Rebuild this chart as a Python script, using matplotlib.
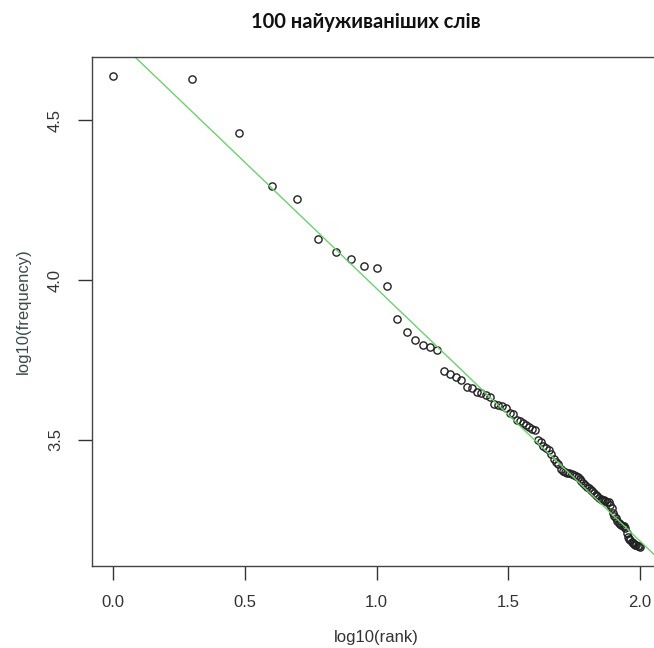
import numpy as np
import matplotlib
matplotlib.use("Agg")
import matplotlib.pyplot as plt

# log10 of word frequency for the 100 most used words (rank 1..100)
rank = np.arange(1, 101)
log_freq = [
    4.637, 4.628, 4.459, 4.294, 4.253, 4.128, 4.088, 4.066, 4.044, 4.038,
    3.980, 3.878, 3.838, 3.812, 3.798, 3.790, 3.780, 3.716, 3.706, 3.696,
    3.688, 3.667, 3.661, 3.650, 3.647, 3.641, 3.633, 3.612, 3.608, 3.606,
    3.600, 3.585, 3.580, 3.563, 3.558, 3.552, 3.547, 3.540, 3.535, 3.531,
    3.500, 3.494, 3.482, 3.476, 3.470, 3.456, 3.440, 3.432, 3.424, 3.410,
    3.404, 3.401, 3.398, 3.396, 3.394, 3.392, 3.388, 3.384, 3.378, 3.372,
    3.366, 3.360, 3.354, 3.349, 3.344, 3.339, 3.334, 3.328, 3.324, 3.320,
    3.316, 3.313, 3.311, 3.309, 3.307, 3.305, 3.298, 3.287, 3.272, 3.262,
    3.255, 3.248, 3.242, 3.238, 3.235, 3.232, 3.230, 3.226, 3.210, 3.198,
    3.192, 3.186, 3.181, 3.177, 3.175, 3.173, 3.172, 3.170, 3.168, 3.166,
]
title = "100 найуживаніших слів"

x = np.log10(rank)
y = np.array(log_freq)
slope, intercept = np.polyfit(x, y, 1)

plt.rcParams['font.family'] = ['Liberation Sans', 'DejaVu Sans']

fig = plt.figure(figsize=(6.54, 6.48), dpi=100)
ax = fig.add_axes([0.1407, 0.1265, 0.870, 0.7855])

ax.plot(x, y, 'o', mfc='none', mec='#222222', ms=5.2, mew=1.0)
xl = np.array([-0.1, 2.2])
ax.plot(xl, intercept + slope * xl, color='#6fcf6f', lw=1.0)

ax.set_xlim(-0.08, 2.08)
ax.set_ylim(3.106, 4.697)
ax.set_xticks([0.0, 0.5, 1.0, 1.5, 2.0])
ax.set_xticklabels(['0.0', '0.5', '1.0', '1.5', '2.0'])
ax.set_yticks([3.5, 4.0, 4.5])
ax.set_yticklabels(['3.5', '4.0', '4.5'], rotation=90, va='center')
ax.tick_params(direction='out', length=10, width=1, color='#333333',
               labelsize=12, labelcolor='#333333', pad=11)

for s in ax.spines.values():
    s.set_color('#444444')
    s.set_linewidth(1)

ax.set_xlabel('log10(rank)', fontsize=12, color='#333333', labelpad=14)
ax.set_ylabel('log10(frequency)', fontsize=12, color='#3b4b4b', labelpad=12)

fig.text(0.56, 0.966, title, ha='center', va='center', fontsize=14.5,
         fontweight='bold', family=['Lato', 'DejaVu Sans'], color='#111111')

fig.savefig('out.png', dpi=100)
